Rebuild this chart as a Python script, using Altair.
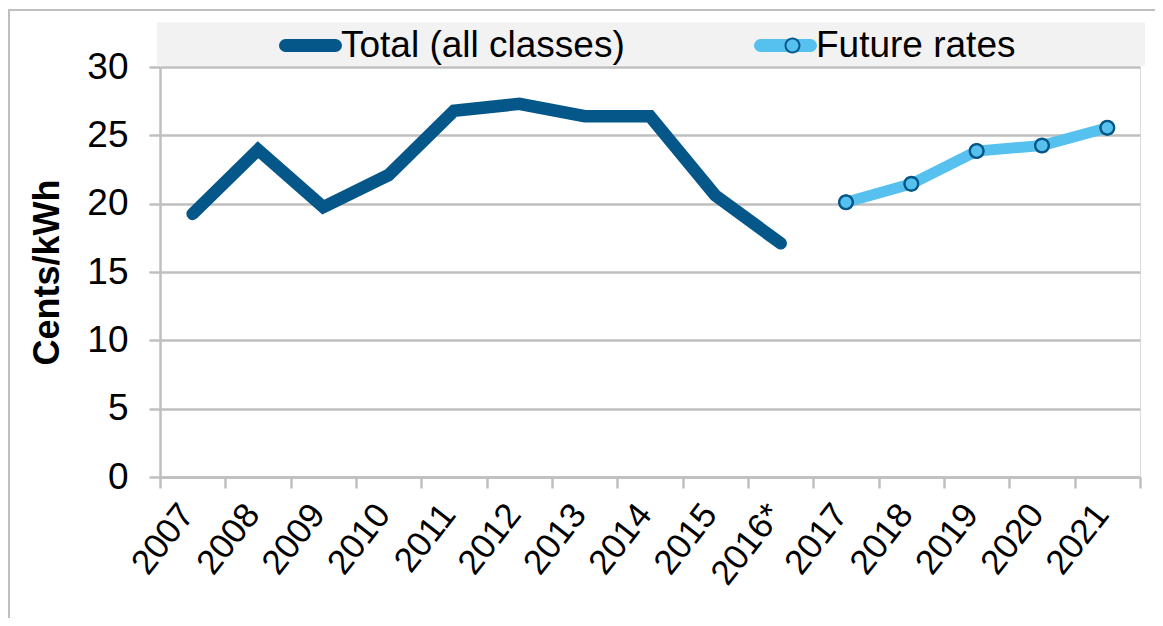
import altair as alt
import pandas as pd

years = ["2007", "2008", "2009", "2010", "2011", "2012", "2013", "2014",
         "2015", "2016*", "2017", "2018", "2019", "2020", "2021"]
total_years = years[:10]
total_values = [19.25, 23.95, 19.75, 22.1, 26.8, 27.3, 26.4, 26.4, 20.6, 17.1]
future_years = years[10:]
future_values = [20.1, 21.45, 23.85, 24.25, 25.55]
series_names = ["Total (all classes)", "Future rates"]
y_ticks = [0, 5, 10, 15, 20, 25, 30]

dark = "#05578a"
light = "#56c1ee"
grid = "#bfbfbf"
FONT = "Liberation Sans"

df = pd.DataFrame({
    "year": total_years + future_years,
    "value": total_values + future_values,
    "series": [series_names[0]] * len(total_years) + [series_names[1]] * len(future_years),
})
df["marker"] = df["series"]

x_enc = alt.X(
    "year:N",
    sort=years,
    bandPosition=0.5,
    scale=alt.Scale(type="band", domain=years, paddingInner=0, paddingOuter=0),
    axis=alt.Axis(
        title=None, grid=False, domainColor=grid, domainWidth=2.5,
        tickColor=grid, tickWidth=2.5, tickSize=11, tickBand="extent",
        labelAngle=308, labelFontSize=35, labelFont=FONT, labelColor="black",
        labelPadding=20, labelOffset=-6, labelOverlap=False,
    ),
)
y_enc = alt.Y(
    "value:Q",
    scale=alt.Scale(domain=[0, 30], nice=False, zero=True),
    axis=alt.Axis(
        values=y_ticks, title="Cents/kWh", titleFontSize=36, titleFont=FONT,
        titleFontWeight="bold", titleColor="black", titlePadding=20,
        grid=True, gridColor=grid, gridWidth=2.5,
        domainColor=grid, domainWidth=2.5, tickColor=grid, tickWidth=2.5,
        tickSize=11, labelFontSize=37, labelFont=FONT, labelColor="black",
        labelPadding=21,
    ),
)

# legend line symbol: thin stadium outline stroked 10px wide -> 13px bar with round ends
round_line = ("M-0.6032,-0.0476L0.9842,-0.0476"
              "A0.0476,0.0476 0 0 1 0.9842,0.0476"
              "L-0.6032,0.0476"
              "A0.0476,0.0476 0 0 1 -0.6032,-0.0476Z")
# ring (marker outline): outer radius 1, inner radius 0.75, opposite winding -> hole
ring = ("M-1,0A1,1 0 1,1 1,0A1,1 0 1,1 -1,0Z"
        "M-0.75,0A0.75,0.75 0 1,0 0.75,0A0.75,0.75 0 1,0 -0.75,0Z")

color_scale = alt.Scale(domain=series_names, range=[dark, light])
color_legend = alt.Legend(
    orient="none", legendX=108, legendY=-58, direction="horizontal",
    title=None, symbolType=round_line, symbolStrokeWidth=10, symbolSize=3969,
    labelFontSize=37, labelFont=FONT, labelColor="black", labelOffset=0,
    columnPadding=113, labelLimit=0, padding=0, symbolOpacity=1,
)

base = alt.Chart(df).encode(x=x_enc, y=y_enc)

total_line = base.transform_filter(
    alt.datum.series == series_names[0]
).mark_line(strokeWidth=12.5, strokeCap="round").encode(
    color=alt.Color("series:N", scale=color_scale, legend=color_legend)
)

future_line = base.transform_filter(
    alt.datum.series == series_names[1]
).mark_line(strokeWidth=11, strokeCap="round").encode(
    color=alt.Color("series:N", scale=color_scale, legend=color_legend)
)

future_points = base.transform_filter(
    alt.datum.series == series_names[1]
).mark_point(filled=True, fill=light, stroke=dark, strokeWidth=2, size=180, opacity=1)

# dark ring over each marker; it also supplies the marker drawn in the legend
future_rings = base.transform_filter(
    alt.datum.series == series_names[1]
).mark_point(filled=True, fill=dark, color=dark, strokeWidth=0, size=256, opacity=1).encode(
    shape=alt.Shape(
        "marker:N",
        scale=alt.Scale(domain=[series_names[1]], range=[ring]),
        legend=alt.Legend(
            orient="none", legendX=614, legendY=-40, title=None,
            symbolSize=256, symbolFillColor=dark, symbolStrokeWidth=0,
            labelFontSize=37, labelOpacity=0, padding=0, symbolOpacity=1,
        ),
    )
)

deco = pd.DataFrame({"k": [0]})
frame = alt.Chart(deco).mark_rect(fill=None, stroke=grid, strokeWidth=2).encode(
    x=alt.value(-151), x2=alt.value(1300), y=alt.value(-57), y2=alt.value(800)
)
legend_bg = alt.Chart(deco).mark_rect(fill="#f2f2f2").encode(
    x=alt.value(-3), x2=alt.value(985), y=alt.value(-44.7), y2=alt.value(-1.3)
)

chart = alt.layer(frame, legend_bg, total_line, future_line, future_points, future_rings).properties(
    width=980, height=410,
    padding={"left": 152, "top": 59, "right": 15, "bottom": 141},
    autosize=alt.AutoSizeParams(type="none"),
).configure_view(stroke=None).configure(background="white")

chart.save("out.html", embed_options={"renderer": "svg", "actions": False})
